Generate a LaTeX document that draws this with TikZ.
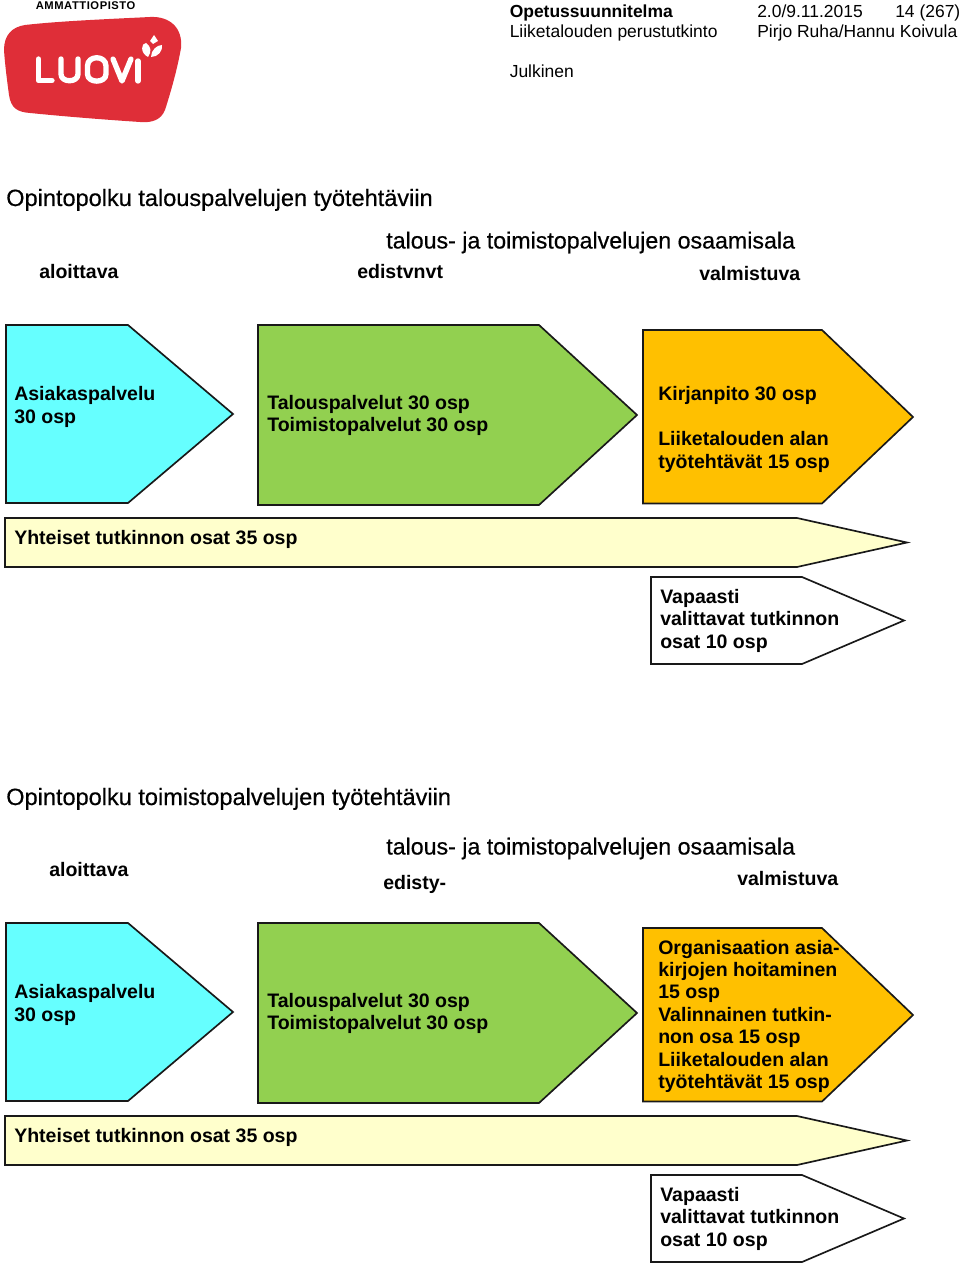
\documentclass[tikz,border=0pt]{standalone}
\usepackage{fontspec}
\setmainfont{Liberation Sans}
\newfontfamily\headfont[FakeBold=0.5]{Liberation Sans}
\newfontfamily\logofont[LetterSpace=5]{Liberation Sans Bold}
\begin{document}
\begin{tikzpicture}[x=0.75pt,y=-0.75pt,
  shapeline/.style={draw=black!90,line width=1.25pt,line join=miter},
  boxtext/.style={anchor=base west,inner sep=0pt,font=\fontsize{14.65}{17}\bfseries},
  headtext/.style={anchor=base west,inner sep=0pt,font=\fontsize{17.4}{20}\headfont},
  bigtext/.style={anchor=base west,inner sep=0pt,font=\fontsize{17.65}{20}\headfont},
  coltext/.style={anchor=base west,inner sep=0pt,font=\fontsize{14.65}{17}\bfseries},
  toptext/.style={anchor=base west,inner sep=0pt,font=\fontsize{13.1}{16}\selectfont}]
\definecolor{cy}{HTML}{66FFFF}
\definecolor{gr}{HTML}{92D050}
\definecolor{orng}{HTML}{FFC000}
\definecolor{lyel}{HTML}{FFFFCC}
\definecolor{logored}{HTML}{DF2E38}
\useasboundingbox (0,0) rectangle (960,1266);
% logo
\node[anchor=base west,inner sep=0pt,font=\fontsize{8.4}{10}\logofont] (ammatti) at (35.5,9.5) {AMMATTIOPISTO};
\fill[logored] (25,25) .. controls (60,21) and (110,19) .. (150,17) .. controls (170,16) and (183,28) .. (181,48)
  .. controls (178,65) and (173,85) .. (165,110) .. controls (161,120) and (152,123) .. (140,122)
  .. controls (110,120) and (70,117) .. (30,113) .. controls (17,112) and (11,108) .. (9,95)
  .. controls (7,80) and (5,65) .. (4,50) .. controls (4,35) and (12,27) .. (25,25) -- cycle;
\begin{scope}[line width=4pt,line cap=round,line join=round]
\draw[white] (38.5,59) -- (38.5,80.5) -- (52,80.5);
\draw[white] (61,59) -- (61,74) .. controls (61,83) and (78,83) .. (78,74) -- (78,59);
\draw[white] (87.5,66) .. controls (87.5,55) and (106,55) .. (106,66) -- (106,74) .. controls (106,83.5) and (87.5,83.5) .. (87.5,74) -- cycle;
\draw[white] (113,59) -- (122,81) -- (131,59);
\draw[white] (138,61) -- (138,81);
\end{scope}
\fill[white] (148,57) .. controls (140,53) and (141,43) .. (146,43) .. controls (151,46) and (152,52) .. (148,57) -- cycle;
\fill[white] (151,57) .. controls (151,50) and (157,45) .. (162,45) .. controls (163,51) and (158,57) .. (151,57) -- cycle;
\fill[white] (150,41) -- (154,35) -- (158,41) -- (153,44) -- cycle;
% top right
\node[toptext,font=\fontsize{13.1}{16}\bfseries] (t1) at (509.5,18) {Opetussuunnitelma};
\node[toptext] (t2) at (509.5,38) {Liiketalouden perustutkinto};
\node[toptext] (t3) at (509.5,78) {Julkinen};
\node[toptext] (t4) at (757,18) {2.0/9.11.2015};
\node[toptext] (t5) at (895,18) {14 (267)};
\node[toptext] (t6) at (757,38) {Pirjo Ruha/Hannu Koivula};
% first path
\node[bigtext] (h1) at (6,206) {Opintopolku talouspalvelujen työtehtäviin};
\node[headtext] (h2) at (386,248.5) {talous- ja toimistopalvelujen osaamisala};
\node[coltext] (h3) at (39,278) {aloittava};
\node[coltext] (h4) at (357,278) {edistvnvt};
\node[coltext] (h5) at (699,280) {valmistuva};
\draw[shapeline,fill=cy] (6,325) -- (128,325) -- (233,414) -- (128,503) -- (6,503) -- cycle;
\node[boxtext] (a1) at (14,400) {Asiakaspalvelu};
\node[boxtext] (a2) at (14,423) {30 osp};
\draw[shapeline,fill=gr] (258,325) -- (539,325) -- (637,415) -- (539,505) -- (258,505) -- cycle;
\node[boxtext] (b1) at (267,409) {Talouspalvelut 30 osp};
\node[boxtext] (b2) at (267,431.5) {Toimistopalvelut 30 osp};
\draw[shapeline,fill=orng] (643,330) -- (822,330) -- (913,417) -- (822,503.5) -- (643,503.5) -- cycle;
\node[boxtext] (c1) at (658,400.5) {Kirjanpito 30 osp};
\node[boxtext] (c2) at (658,445.5) {Liiketalouden alan};
\node[boxtext] (c3) at (658,468) {työtehtävät 15 osp};
\draw[shapeline,fill=lyel] (5,518) -- (797,518) -- (907,542.5) -- (797,567) -- (5,567) -- cycle;
\node[boxtext] (d1) at (14,544) {Yhteiset tutkinnon osat 35 osp};
\draw[shapeline,fill=white] (651,577) -- (802,577) -- (904,620.5) -- (802,664) -- (651,664) -- cycle;
\node[boxtext] (e1) at (660,603) {Vapaasti};
\node[boxtext] (e2) at (660,625.5) {valittavat tutkinnon};
\node[boxtext] (e3) at (660,648) {osat 10 osp};
% second path
\node[bigtext] (h6) at (6,805) {Opintopolku toimistopalvelujen työtehtäviin};
\node[headtext] (h7) at (386,854.5) {talous- ja toimistopalvelujen osaamisala};
\node[coltext] (h8) at (49,876) {aloittava};
\node[coltext] (h9) at (383,889) {edisty-};
\node[coltext] (h10) at (737,885) {valmistuva};
\draw[shapeline,fill=cy] (6,923) -- (128,923) -- (233,1012) -- (128,1101) -- (6,1101) -- cycle;
\node[boxtext] (f1) at (14,998) {Asiakaspalvelu};
\node[boxtext] (f2) at (14,1021) {30 osp};
\draw[shapeline,fill=gr] (258,923) -- (539,923) -- (637,1013) -- (539,1103) -- (258,1103) -- cycle;
\node[boxtext] (g1) at (267,1007) {Talouspalvelut 30 osp};
\node[boxtext] (g2) at (267,1029.5) {Toimistopalvelut 30 osp};
\draw[shapeline,fill=orng] (643,928) -- (822,928) -- (913,1015) -- (822,1101.5) -- (643,1101.5) -- cycle;
\node[boxtext] (k1) at (658,954) {Organisaation asia-};
\node[boxtext] (k2) at (658,976) {kirjojen hoitaminen};
\node[boxtext] (k3) at (658,998.5) {15 osp};
\node[boxtext] (k4) at (658,1021) {Valinnainen tutkin-};
\node[boxtext] (k5) at (658,1043.5) {non osa 15 osp};
\node[boxtext] (k6) at (658,1066) {Liiketalouden alan};
\node[boxtext] (k7) at (658,1088) {työtehtävät 15 osp};
\draw[shapeline,fill=lyel] (5,1116) -- (797,1116) -- (907,1140.5) -- (797,1165) -- (5,1165) -- cycle;
\node[boxtext] (m1) at (14,1142) {Yhteiset tutkinnon osat 35 osp};
\draw[shapeline,fill=white] (651,1175) -- (802,1175) -- (904,1218.5) -- (802,1262) -- (651,1262) -- cycle;
\node[boxtext] (n1) at (660,1201) {Vapaasti};
\node[boxtext] (n2) at (660,1223.5) {valittavat tutkinnon};
\node[boxtext] (n3) at (660,1246) {osat 10 osp};
\end{tikzpicture}
\end{document}
